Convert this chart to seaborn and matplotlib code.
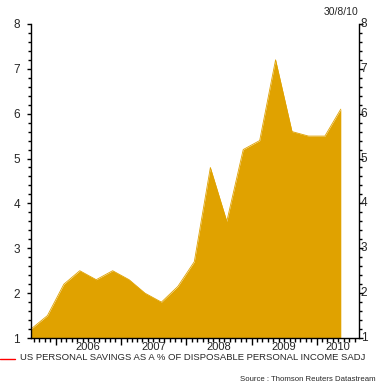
import matplotlib
matplotlib.use("Agg")
import matplotlib.pyplot as plt
import matplotlib.dates as mdates
import matplotlib.transforms as mtrans
from matplotlib.ticker import MultipleLocator
import pandas as pd
import seaborn as sns

# quarterly savings rate, plotted mid-quarter
quarters = ["2005-08-15", "2005-11-15", "2006-02-15", "2006-05-15", "2006-08-15",
            "2006-11-15", "2007-02-15", "2007-05-15", "2007-08-15", "2007-11-15",
            "2008-02-15", "2008-05-15", "2008-08-15", "2008-11-15", "2009-02-15",
            "2009-05-15", "2009-08-15", "2009-11-15", "2010-02-15", "2010-05-15"]
savings = [1.2, 1.5, 2.2, 2.5, 2.3, 2.5, 2.3, 2.0, 1.8, 2.15,
           2.7, 4.8, 3.6, 5.2, 5.4, 7.2, 5.6, 5.5, 5.5, 6.1]
y_labels = ["1", "2", "3", "4", "5", "6", "7", "8"]
year_labels = ["2006", "2007", "2008", "2009", "2010"]
year_label_pos = ["2006-07-01", "2007-07-01", "2008-07-01", "2009-07-01", "2010-04-30"]

df = pd.DataFrame({"date": pd.to_datetime(quarters), "rate": savings})

sns.set_style("white")
plt.rcParams['font.family'] = ['Liberation Sans', 'DejaVu Sans']

gold = "#E0A200"
fig = plt.figure(figsize=(3.85, 3.85), dpi=100)
ax = fig.add_axes([0.0805, 0.122, 0.852, 0.816])

sns.lineplot(data=df, x="date", y="rate", color=gold, linewidth=0.6, ax=ax)
ax.fill_between(df["date"], 1, df["rate"], color=gold, linewidth=0)

ax.set_xlim(pd.Timestamp("2005-08-15"), pd.Timestamp("2010-08-25"))
ax.set_ylim(1, 8)
ax.set_xlabel("")
ax.set_ylabel("")

for s in ["left", "right", "bottom"]:
    ax.spines[s].set_visible(True)
    ax.spines[s].set_color("black")
    ax.spines[s].set_linewidth(1.0)
ax.spines["top"].set_visible(False)

# y ticks both sides; left labels by axis, right labels as text hugging the ticks
ax.yaxis.set_major_locator(MultipleLocator(1))
ax.yaxis.set_minor_locator(MultipleLocator(0.2))
ax.set_yticks(range(1, 9))
ax.set_yticklabels(y_labels)
ax.tick_params(axis="y", which="both", left=True, right=True, labelleft=True,
               labelright=False, direction="out", color="black", labelsize=8.5)
ax.tick_params(axis="y", which="major", length=3, width=1, pad=5)
ax.tick_params(axis="y", which="minor", length=2, width=1)

rtrans = mtrans.blended_transform_factory(ax.transAxes, ax.transData)
for v, lab in zip(range(1, 9), y_labels):
    ax.text(1.005, v, lab, transform=rtrans, ha="left", va="center", fontsize=8.5)

# x ticks: year starts long, months short
ax.xaxis.set_major_locator(mdates.YearLocator())
ax.xaxis.set_minor_locator(mdates.MonthLocator())
ax.xaxis.set_major_formatter(plt.NullFormatter())
ax.tick_params(axis="x", which="major", bottom=True, length=5, width=1, direction="out", color="black")
ax.tick_params(axis="x", which="minor", bottom=True, length=3, width=1, direction="out", color="black")

trans = mtrans.blended_transform_factory(ax.transData, ax.transAxes)
for lab, pos in zip(year_labels, year_label_pos):
    ax.text(mdates.date2num(pd.Timestamp(pos)), -0.012, lab, transform=trans,
            ha="center", va="top", fontsize=8)

fig.text(0.886, 0.968, "30/8/10", ha="center", va="center", fontsize=7.5)
fig.add_artist(plt.Line2D([0.0, 0.04], [0.067, 0.067], color="red", linewidth=1.0))
fig.text(0.052, 0.072, "US PERSONAL SAVINGS AS A % OF DISPOSABLE PERSONAL INCOME SADJ",
         ha="left", va="center", fontsize=6.8)
fig.text(0.975, 0.013, "Source : Thomson Reuters Datastream", ha="right", va="center",
         fontsize=5.6)

plt.savefig("out.png", dpi=100)
